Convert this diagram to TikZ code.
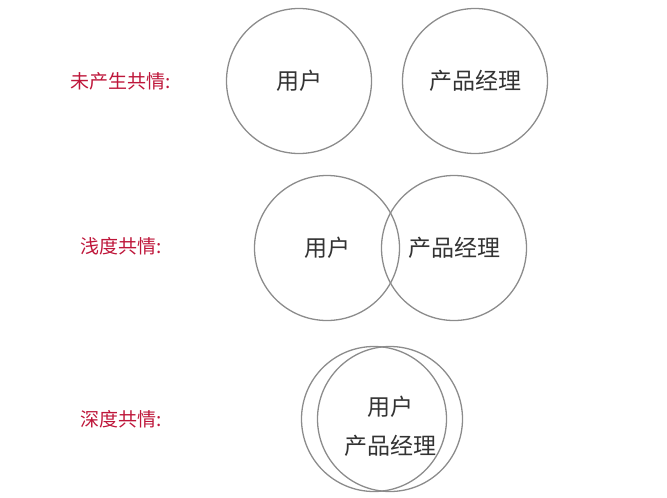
\documentclass[tikz,border=0pt]{standalone}
\usepackage{fontspec}
\setmainfont{Noto Sans CJK SC}
\definecolor{empred}{RGB}{190,22,58}
\definecolor{ringgray}{RGB}{140,140,140}
\definecolor{textgray}{RGB}{51,51,51}
\usepackage{tikz}
\usetikzlibrary{positioning}

\begin{document}
\begin{tikzpicture}[x=1pt, y=-1pt,
      ring/.style={circle, draw=ringgray, line width=1.3pt, minimum size=145pt,
                   inner sep=0pt, font=\fontsize{23}{39}\selectfont,
                   text=textgray, align=center},
      lbl/.style={font=\fontsize{19}{22}\selectfont, text=empred}
    ]
      \useasboundingbox (0,0) rectangle (667,498);

      % no empathy
      \node[lbl] (noneLbl) at (121,81) {未产生共情:};
      \node[ring] (noneUser) at (299,81) {用户};
      \node[ring] (nonePM) at (475,81) {产品经理};

      % shallow empathy
      \node[lbl] (shallowLbl) at (121,246) {浅度共情:};
      \node[ring] (shallowUser) at (327,248) {用户};
      \node[ring] (shallowPM) at (454,248) {产品经理};

      % deep empathy
      \node[lbl] (deepLbl) at (121,419) {深度共情:};
      \node[ring] (deepUser) at (374,419) {};
      \node[ring] (deepPM) at (390,419) {};
      \node[font=\fontsize{23}{39}\selectfont, text=textgray, align=center]
        (deepTxt) at (390,426) {用户\\产品经理};
    \end{tikzpicture}
\end{document}
